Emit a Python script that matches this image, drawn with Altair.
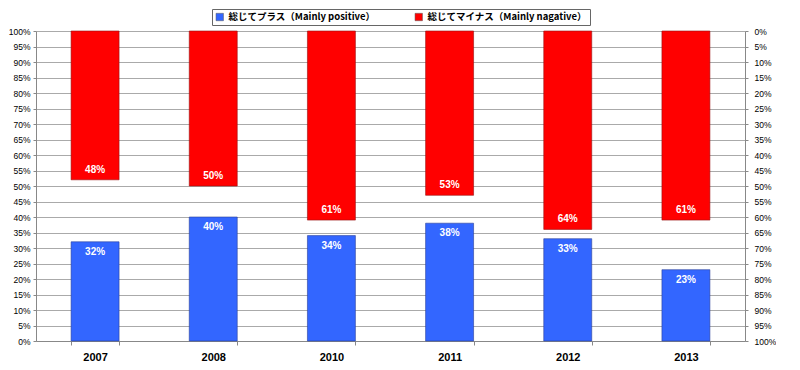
import altair as alt
import pandas as pd

years = ["2007", "2008", "2010", "2011", "2012", "2013"]
positive = [32, 40, 34, 38, 33, 23]
negative = [48, 50, 61, 53, 64, 61]
series_names = ["総じてプラス（Mainly positive）", "総じてマイナス（Mainly nagative）"]
series_colors = ["#3366FF", "#FF0000"]
left_ticks = list(range(0, 101, 5))

pos_df = pd.DataFrame({"year": years, "value": [v / 100 for v in positive],
                       "series": series_names[0],
                       "label": [f"{v}%" for v in positive]})
neg_df = pd.DataFrame({"year": years, "value": [v / 100 for v in negative],
                       "series": series_names[1],
                       "label": [f"{v}%" for v in negative]})

color = alt.Color("series:N",
                  scale=alt.Scale(domain=series_names, range=series_colors),
                  legend=alt.Legend(title=None, orient="none", direction="horizontal",
                                    legendX=176, legendY=-22,
                                    symbolType="square", symbolSize=55,
                                    symbolStrokeColor="#555", symbolStrokeWidth=0.5,
                                    labelFont="Noto Sans CJK JP", labelFontSize=9.5,
                                    labelFontWeight="bold", labelColor="#000",
                                    columnPadding=38, padding=3,
                                    strokeColor="#666", fillColor="white",
                                    labelLimit=300))

x_axis = alt.Axis(labelAngle=0, labelFont="Liberation Sans", labelFontSize=11,
                  labelFontWeight="bold", labelColor="#000", labelPadding=6,
                  tickBand="extent", tickSize=4, tickColor="#888",
                  domainColor="#888", ticks=True)
x_scale = alt.Scale(paddingInner=0.594, paddingOuter=0.297)
x = alt.X("year:N", sort=years, title=None, scale=x_scale, axis=x_axis)

tick_vals = [round(t / 100, 2) for t in left_ticks]

left_axis = alt.Axis(values=tick_vals, format=".0%", orient="left",
                     labelFont="Liberation Sans", labelFontSize=8.5,
                     labelColor="#000", gridColor="#aaaaaa", gridWidth=1,
                     domainColor="#888", tickColor="#888", tickSize=3,
                     labelPadding=3, labelOverlap=False)
right_axis = alt.Axis(values=tick_vals, format=".0%", orient="right",
                      grid=False, labelFont="Liberation Sans", labelFontSize=8.5,
                      labelColor="#000", domainColor="#888", tickColor="#888",
                      tickSize=3, labelPadding=6, labelOverlap=False)

pos_scale = alt.Scale(domain=[0, 1], nice=False)
neg_scale = alt.Scale(domain=[0, 1], nice=False, reverse=True)

pos_bar = alt.Chart(pos_df).mark_bar(stroke="#2a3f99", strokeWidth=0.6).encode(
    x=x,
    y=alt.Y("value:Q", title=None, scale=pos_scale, axis=left_axis),
    color=color,
)
pos_text = alt.Chart(pos_df).mark_text(baseline="top", dy=5, color="white",
                                       fontWeight="bold", fontSize=10,
                                       font="Liberation Sans").encode(
    x=x,
    y=alt.Y("value:Q", title=None, scale=pos_scale, axis=left_axis),
    text="label:N",
)

neg_bar = alt.Chart(neg_df).mark_bar(stroke="#991111", strokeWidth=0.6).encode(
    x=x,
    y=alt.Y("value:Q", title=None, scale=neg_scale, axis=right_axis),
    color=color,
)
neg_text = alt.Chart(neg_df).mark_text(baseline="bottom", dy=-5, color="white",
                                       fontWeight="bold", fontSize=10,
                                       font="Liberation Sans").encode(
    x=x,
    y=alt.Y("value:Q", title=None, scale=neg_scale, axis=right_axis),
    text="label:N",
)

left = alt.layer(pos_bar, pos_text)
right = alt.layer(neg_bar, neg_text)

chart = alt.layer(left, right).resolve_scale(y="independent").properties(
    width=709, height=310, padding={"left": 0, "top": 0, "right": 0, "bottom": 0},
    background="white",
).configure_view(stroke=None)

chart.save("out.html", embed_options={"renderer": "svg", "actions": False})
